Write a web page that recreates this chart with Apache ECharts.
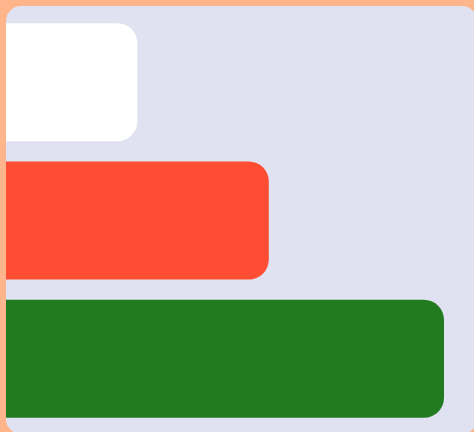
<!DOCTYPE html>
<html>
<head>
<meta charset="utf-8">
<script src="https://cdn.jsdelivr.net/npm/echarts@6/dist/echarts.min.js"></script>
<style>
  html, body { margin: 0; padding: 0; background: #ffb58c; }
  #main { width: 474px; height: 432px; }
</style>
</head>
<body>
<div id="main"></div>
<script>
// bars listed top to bottom
var categories = ['A', 'B', 'C'];
var values = [30, 60, 100];
var barColors = ['#ffffff', '#ff4d33', '#237b20'];

var chart = echarts.init(document.getElementById('main'));

var option = {
    backgroundColor: '#ffb58c',
    animation: false,
    graphic: [
        {
            type: 'rect',
            z: -10,
            shape: { x: 6, y: 6, width: 471, height: 428, r: 15 },
            style: { fill: '#e0e2f1' }
        }
    ],
    grid: {
        left: 6,
        right: 30,
        top: 13,
        bottom: 4
    },
    xAxis: {
        type: 'value',
        min: 0,
        max: 100,
        show: false
    },
    yAxis: {
        type: 'category',
        inverse: true,
        data: categories,
        show: false
    },
    series: [
        {
            type: 'bar',
            barWidth: 118,
            data: values.map(function (v, i) {
                return { value: v, itemStyle: { color: barColors[i] } };
            }),
            itemStyle: { borderRadius: [0, 20, 20, 0] }
        }
    ]
};

chart.setOption(option);
</script>
</body>
</html>
